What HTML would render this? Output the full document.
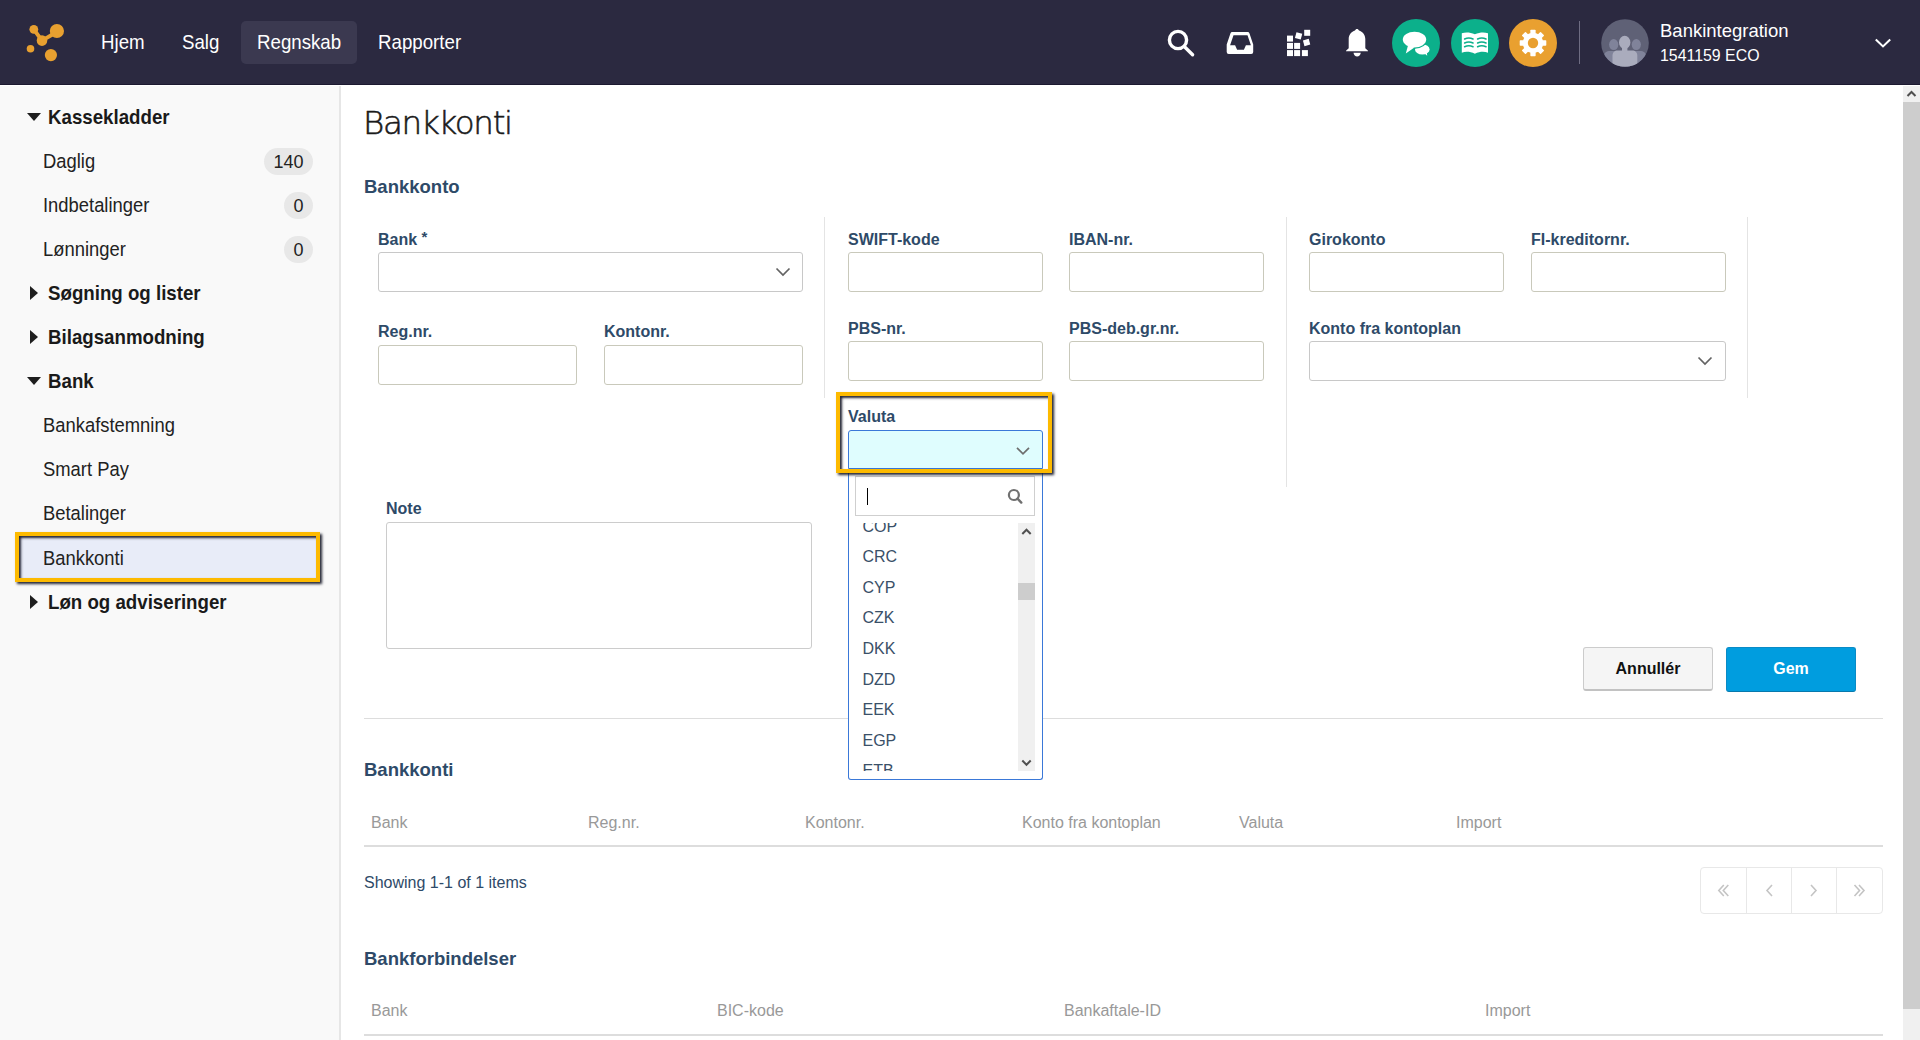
<!DOCTYPE html>
<html lang="da"><head><meta charset="utf-8"><title>Bankkonti</title>
<style>
*{box-sizing:border-box;margin:0;padding:0}
html,body{width:1920px;height:1040px;overflow:hidden;background:#fff;font-family:"Liberation Sans",Arial,sans-serif;color:#222}
.a{position:absolute;white-space:nowrap}
#hdr{position:absolute;left:0;top:0;width:1920px;height:85px;background:#2b2940;border-bottom:1px solid #1c1930}
.nav{position:absolute;top:21px;height:43px;line-height:43px;font-size:18.7px;color:#fff;padding:0 16px}
.nav span{display:inline-block;transform:scaleY(1.06);transform-origin:0 28px;line-height:43px;vertical-align:top}
.nav.on{background:#3b3950;border-radius:5px}
.hc{position:absolute;top:19px;width:48px;height:48px;border-radius:50%}
#side{position:absolute;left:0;top:86px;width:341px;height:954px;background:#f9f9f9;border-right:2px solid #e6e6e6}
.sh{position:absolute;left:48px;font-size:18.7px;line-height:18.7px;transform:scaleY(1.06);transform-origin:0 15.8px;font-weight:bold;color:#1a1a1a;white-space:nowrap}
.si{position:absolute;left:43px;font-size:18.4px;line-height:18.4px;transform:scaleY(1.06);transform-origin:0 15.6px;color:#222;white-space:nowrap}
.tri{position:absolute;width:0;height:0}
.tri.d{left:27px;border-left:7px solid transparent;border-right:7px solid transparent;border-top:8px solid #1e1e1e}
.tri.r{left:30px;border-top:7px solid transparent;border-bottom:7px solid transparent;border-left:8px solid #1e1e1e}
.badge{position:absolute;height:27px;line-height:28.4px;border-radius:14px;background:#e8e8e8;font-size:18px;color:#222;text-align:center}
.lbl{position:absolute;font-size:16px;line-height:16px;font-weight:bold;color:#2e4a68;white-space:nowrap}
.inp{position:absolute;border:1px solid #c9c9bb;border-radius:3px;background:#fff}
.sel{position:absolute;border:1px solid #c8c8c8;border-radius:3px;background:#fff}
.chev{position:absolute;width:16px;height:10px}
.vd{position:absolute;width:1px;background:#e4e4e4}
.sec{position:absolute;left:364px;font-size:18.5px;line-height:18.5px;font-weight:bold;color:#2e4a68;white-space:nowrap}
.th{position:absolute;font-size:16px;line-height:16px;color:#999;white-space:nowrap}
.opt{position:absolute;left:862px;font-size:16px;line-height:16px;color:#3a5068;white-space:nowrap}
.hl{position:absolute;border:4px solid #fdba00;box-shadow:2px 2px 2.5px rgba(22,24,40,.95), inset 2px 2px 2.5px rgba(22,24,40,.95)}
</style></head><body>

<div id="hdr">
  <svg class="a" style="left:20px;top:18px" width="48" height="48" viewBox="20 18 48 48">
    <g fill="#e8a030">
      <circle cx="33.8" cy="29.3" r="4.4"/>
      <circle cx="56.9" cy="31" r="7.1"/>
      <circle cx="42" cy="40.6" r="5.3"/>
      <circle cx="30.5" cy="48.8" r="3.8"/>
      <circle cx="50.9" cy="55.1" r="6.1"/>
    </g>
    <g stroke="#e8a030" stroke-width="3.9" stroke-linecap="round">
      <line x1="33.8" y1="29.3" x2="42" y2="40.6"/>
      <line x1="42" y1="40.6" x2="55" y2="33"/>
    </g>
  </svg>
  <div class="nav" style="left:85px"><span>Hjem</span></div>
  <div class="nav" style="left:166px"><span>Salg</span></div>
  <div class="nav on" style="left:241px;width:116px"><span>Regnskab</span></div>
  <div class="nav" style="left:362px"><span>Rapporter</span></div>

  <!-- search -->
  <svg class="a" style="left:1160px;top:20px" width="40" height="44" viewBox="1160 20 40 44">
    <circle cx="1178" cy="40" r="8.6" fill="none" stroke="#fff" stroke-width="3.4"/>
    <line x1="1185" y1="47.2" x2="1192.6" y2="54.8" stroke="#fff" stroke-width="3.4" stroke-linecap="round"/>
  </svg>
  <!-- inbox -->
  <svg class="a" style="left:1222px;top:26px" width="36" height="34" viewBox="1222 26 36 34">
    <path fill="#fff" fill-rule="evenodd" d="M1233 32h14.6a2 2 0 0 1 1.9 1.4l3.7 11.1v7.4a2 2 0 0 1-2 2h-22.5a2 2 0 0 1-2-2v-7.4l3.7-11.1a2 2 0 0 1 1.9-1.4z M1233.5 35.2l-3.4 10h5l2 4.6h6.8l2-4.6h5l-3.4-10z"/>
  </svg>
  <!-- grid -->
  <svg class="a" style="left:1282px;top:26px" width="34" height="34" viewBox="1282 26 34 34">
    <g fill="#fff">
      <rect x="1287" y="35.6" width="6" height="6"/>
      <rect x="1287" y="42.9" width="6" height="6"/>
      <rect x="1294.1" y="42.9" width="6" height="6"/>
      <rect x="1287" y="50.1" width="6" height="6"/>
      <rect x="1294.1" y="50.1" width="6" height="6"/>
      <rect x="1301.9" y="50.1" width="6" height="6"/>
      <rect x="1304.2" y="29.8" width="6" height="6"/>
      <rect x="1295.6" y="32.9" width="6" height="6" transform="rotate(15 1298.6 35.9)"/>
      <rect x="1303.6" y="39.5" width="6" height="6" transform="rotate(-15 1306.6 42.5)"/>
    </g>
  </svg>
  <!-- bell -->
  <svg class="a" style="left:1340px;top:24px" width="34" height="36" viewBox="1340 24 34 36">
    <path fill="#fff" d="M1357 29.1c1 0 1.6.7 2 1.4 3.5 1.2 6.3 4.3 6.3 8.5v9.3l2.7 2.5v.5h-22v-.5l2.7-2.5v-9.3c0-4.2 2.8-7.3 6.3-8.5.4-.7 1-1.4 2-1.4z M1353.5 52.8h7.3c-.3 2.1-1.8 3.7-3.65 3.7s-3.35-1.6-3.65-3.7z"/>
  </svg>
  <!-- chat circle -->
  <div class="hc" style="left:1392px;background:#0cb08b"></div>
  <svg class="a" style="left:1392px;top:19px" width="48" height="48" viewBox="1392 19 48 48">
    <ellipse cx="1422.3" cy="49.4" rx="7.3" ry="5.2" fill="#fff"/>
    <path d="M1424 53l3.2 2.8-.4-3.6z" fill="#fff"/>
    <ellipse cx="1414.5" cy="39.6" rx="12.9" ry="9.2" fill="#0cb08b"/>
    <ellipse cx="1414.5" cy="39.6" rx="11.7" ry="7.9" fill="#fff"/>
    <path d="M1408 45.5l-2.2 8.1 8.6-6.2z" fill="#fff"/>
  </svg>
  <!-- book circle -->
  <div class="hc" style="left:1451px;background:#0cb08b"></div>
  <svg class="a" style="left:1451px;top:19px" width="48" height="48" viewBox="1451 19 48 48">
    <path fill="#fff" d="M1461.8 33.3c3.5-1.2 8.2-1.2 13.1 1 4.9-2.2 9.6-2.2 13.1-1v19.4c-3.5-1.3-8.2-1.3-13.1 1-4.9-2.3-9.6-2.3-13.1-1z"/>
    <g stroke="#0cb08b" stroke-width="1.6" fill="none" stroke-linecap="round">
      <path d="M1464.6 38.9q4.2-1.9 8.4 0M1477.6 38.9q4.2-1.9 8.4 0"/>
      <path d="M1464.6 42.9q4.2-1.9 8.4 0M1477.6 42.9q4.2-1.9 8.4 0"/>
      <path d="M1464.6 46.7q4.2-1.9 8.4 0M1477.6 46.7q4.2-1.9 8.4 0"/>
    </g>
  </svg>
  <!-- gear circle -->
  <div class="hc" style="left:1509px;background:#e9a030"></div>
  <svg class="a" style="left:1509px;top:19px" width="48" height="48" viewBox="-24 -24 48 48">
    <g fill="#fff">
      <circle r="10.2"/>
      <rect x="-2.65" y="-13.3" width="5.3" height="5" rx=".7"/>
      <rect x="-2.65" y="-13.3" width="5.3" height="5" rx=".7" transform="rotate(45)"/>
      <rect x="-2.65" y="-13.3" width="5.3" height="5" rx=".7" transform="rotate(90)"/>
      <rect x="-2.65" y="-13.3" width="5.3" height="5" rx=".7" transform="rotate(135)"/>
      <rect x="-2.65" y="-13.3" width="5.3" height="5" rx=".7" transform="rotate(180)"/>
      <rect x="-2.65" y="-13.3" width="5.3" height="5" rx=".7" transform="rotate(225)"/>
      <rect x="-2.65" y="-13.3" width="5.3" height="5" rx=".7" transform="rotate(270)"/>
      <rect x="-2.65" y="-13.3" width="5.3" height="5" rx=".7" transform="rotate(315)"/>
    </g>
    <circle r="5.2" fill="#e9a030"/>
  </svg>
  <div class="a" style="left:1579px;top:21px;width:1px;height:43px;background:#6e6c82"></div>
  <!-- avatar -->
  <svg class="a" style="left:1601px;top:19px" width="48" height="48" viewBox="-24 -24 48 48">
    <defs><clipPath id="cc"><circle r="23.8"/></clipPath></defs>
    <circle r="23.8" fill="#5f6176"/>
    <g clip-path="url(#cc)">
      <g fill="#80839a">
        <ellipse cx="-11.3" cy="1.6" rx="4.6" ry="5.5"/>
        <path d="M-21 24v-11c0-3 2.5-4.9 6-4.9h7.5c3.5 0 6 1.9 6 4.9v11z"/>
        <ellipse cx="11.3" cy="1.6" rx="4.6" ry="5.5"/>
        <path d="M21 24v-11c0-3-2.5-4.9-6-4.9h-7.5c-3.5 0-6 1.9-6 4.9v11z"/>
      </g>
      <g fill="#aaacbd">
        <ellipse cx="-0.3" cy="-0.6" rx="5.7" ry="6.6"/>
        <rect x="-3" y="3" width="5.4" height="6"/>
        <path d="M-12.5 24v-11.5c0-3 2.2-5 5-5h14.8c2.8 0 5 2 5 5v11.5z"/>
      </g>
    </g>
  </svg>
  <div class="a" style="left:1660px;top:22.4px;font-size:18.5px;line-height:18.5px;color:#fff">Bankintegration</div>
  <div class="a" style="left:1660px;top:48.4px;font-size:15.9px;line-height:15.9px;color:#fff">1541159 ECO</div>
  <svg class="a" style="left:1873px;top:36px" width="20" height="14" viewBox="0 0 20 14">
    <path d="M2.8 3.6l7.2 6.8 7.2-6.8" fill="none" stroke="#fff" stroke-width="2.1"/>
  </svg>
</div>

<div id="side">
</div>
<!-- sidebar content (page coords) -->
<div class="tri d" style="top:113px"></div>
<div class="sh" style="top:108.9px">Kassekladder</div>
<div class="si" style="top:152.5px">Daglig</div>
<div class="badge" style="left:264px;top:148px;width:49px">140</div>
<div class="si" style="top:196.5px">Indbetalinger</div>
<div class="badge" style="left:284px;top:192px;width:29px">0</div>
<div class="si" style="top:240.5px">Lønninger</div>
<div class="badge" style="left:284px;top:236px;width:29px">0</div>
<div class="tri r" style="top:286px"></div>
<div class="sh" style="top:285px">Søgning og lister</div>
<div class="tri r" style="top:330px"></div>
<div class="sh" style="top:328.8px">Bilagsanmodning</div>
<div class="tri d" style="top:377px"></div>
<div class="sh" style="top:372.6px">Bank</div>
<div class="si" style="top:416.5px">Bankafstemning</div>
<div class="si" style="top:460.5px">Smart Pay</div>
<div class="si" style="top:504.5px">Betalinger</div>
<div class="hl" style="left:15px;top:532px;width:305px;height:50px;background:#e8ecf8"></div>
<div class="si" style="top:549.5px">Bankkonti</div>
<div class="tri r" style="top:595px"></div>
<div class="sh" style="top:594px">Løn og adviseringer</div>

<!-- main -->
<div class="a" style="left:363px;top:103px;font-family:'DejaVu Sans',sans-serif;font-weight:200;font-size:32.5px;line-height:40px;letter-spacing:-1.3px;-webkit-text-stroke:0.55px #1a1a1a;color:#1a1a1a">Bankkonti</div>
<div class="sec" style="top:177.8px">Bankkonto</div>

<div class="vd" style="left:824px;top:217px;height:181px"></div>
<div class="vd" style="left:1286px;top:217px;height:270px"></div>
<div class="vd" style="left:1747px;top:217px;height:181px"></div>

<div class="lbl" style="left:378px;top:231.5px">Bank <span style="font-size:15px;position:relative;top:-2.5px">*</span></div>
<div class="sel" style="left:378px;top:252px;width:425px;height:40px"></div>
<svg class="chev" style="left:775px;top:267px" viewBox="0 0 16 10"><path d="M1.5 1.5l6.5 6.5 6.5-6.5" fill="none" stroke="#636363" stroke-width="1.7"/></svg>

<div class="lbl" style="left:378px;top:323.5px">Reg.nr.</div>
<div class="inp" style="left:378px;top:345px;width:199px;height:40px"></div>
<div class="lbl" style="left:604px;top:323.5px">Kontonr.</div>
<div class="inp" style="left:604px;top:345px;width:199px;height:40px"></div>

<div class="lbl" style="left:848px;top:231.5px">SWIFT-kode</div>
<div class="inp" style="left:848px;top:252px;width:195px;height:40px"></div>
<div class="lbl" style="left:1069px;top:231.5px">IBAN-nr.</div>
<div class="inp" style="left:1069px;top:252px;width:195px;height:40px"></div>
<div class="lbl" style="left:848px;top:321.2px">PBS-nr.</div>
<div class="inp" style="left:848px;top:341px;width:195px;height:40px"></div>
<div class="lbl" style="left:1069px;top:321.2px">PBS-deb.gr.nr.</div>
<div class="inp" style="left:1069px;top:341px;width:195px;height:40px"></div>

<div class="lbl" style="left:1309px;top:231.5px">Girokonto</div>
<div class="inp" style="left:1309px;top:252px;width:195px;height:40px"></div>
<div class="lbl" style="left:1531px;top:231.5px">FI-kreditornr.</div>
<div class="inp" style="left:1531px;top:252px;width:195px;height:40px"></div>
<div class="lbl" style="left:1309px;top:321.2px">Konto fra kontoplan</div>
<div class="sel" style="left:1309px;top:341px;width:417px;height:40px"></div>
<svg class="chev" style="left:1697px;top:356px" viewBox="0 0 16 10"><path d="M1.5 1.5l6.5 6.5 6.5-6.5" fill="none" stroke="#636363" stroke-width="1.7"/></svg>

<!-- Valuta -->
<div class="a" style="left:364px;top:718px;width:1519px;height:1px;background:#dddddd"></div>

<div class="lbl" style="left:848px;top:409.4px">Valuta</div>
<div class="a" style="left:848px;top:430px;width:195px;height:39px;background:#dffdfe;border:1px solid #3a78d8;border-radius:3px 3px 0 0"></div>
<svg class="chev" style="left:1014.5px;top:446px" viewBox="0 0 16 10"><path d="M2 1.8l6 6 6-6" fill="none" stroke="#6e6e6e" stroke-width="1.7"/></svg>
<div class="a" style="left:848px;top:470px;width:195px;height:310px;background:#fff;border:1px solid #3a78d8;border-top:none;border-radius:0 0 3px 3px"></div>
<div class="a" style="left:855px;top:476px;width:180px;height:40px;border:1px solid #cfcfcf;background:#fff"></div>
<div class="a" style="left:866.5px;top:488px;width:1.3px;height:17px;background:#000"></div>
<svg class="a" style="left:1005px;top:486px" width="20" height="20" viewBox="1005 486 20 20">
  <circle cx="1013.9" cy="495" r="5" fill="none" stroke="#707070" stroke-width="2.2"/>
  <line x1="1017.5" y1="498.7" x2="1021.3" y2="502.6" stroke="#707070" stroke-width="2.4" stroke-linecap="round"/>
</svg>
<!-- list -->
<div class="a" style="left:849px;top:523px;width:186px;height:248px;overflow:hidden"><div style="position:absolute;left:0;top:1px;width:186px;height:260px">
  <div class="opt" style="left:13.5px;top:-5.5px">COP</div>
  <div class="opt" style="left:13.5px;top:25.1px">CRC</div>
  <div class="opt" style="left:13.5px;top:55.7px">CYP</div>
  <div class="opt" style="left:13.5px;top:86.3px">CZK</div>
  <div class="opt" style="left:13.5px;top:116.9px">DKK</div>
  <div class="opt" style="left:13.5px;top:147.5px">DZD</div>
  <div class="opt" style="left:13.5px;top:178.1px">EEK</div>
  <div class="opt" style="left:13.5px;top:208.7px">EGP</div>
  <div class="opt" style="left:13.5px;top:239.3px">ETB</div>
</div></div>
<div class="a" style="left:1018px;top:523px;width:17px;height:248px;background:#f0f0f0"></div>
<div class="a" style="left:1018px;top:583px;width:17px;height:17px;background:#cdcdcd"></div>
<svg class="a" style="left:1018px;top:523px" width="17" height="17" viewBox="0 0 17 17"><path d="M4.3 11l4.2-4.3 4.2 4.3" fill="none" stroke="#505050" stroke-width="2"/></svg>
<svg class="a" style="left:1018px;top:754px" width="17" height="17" viewBox="0 0 17 17"><path d="M4.3 6.5l4.2 4.3 4.2-4.3" fill="none" stroke="#505050" stroke-width="2"/></svg>

<div class="hl" style="left:836px;top:392px;width:216px;height:81px;background:transparent"></div>

<div class="lbl" style="left:386px;top:500.5px">Note</div>
<div class="a" style="left:386px;top:522px;width:426px;height:127px;border:1px solid #cccccc;border-radius:3px"></div>

<div class="a" style="left:1583px;top:647px;width:130px;height:44px;background:#f5f5f5;border:1px solid #cccccc;border-bottom:2px solid #c2c2c2;border-radius:3px;font-size:16px;font-weight:bold;color:#111;text-align:center;line-height:42px">Annullér</div>
<div class="a" style="left:1726px;top:647px;width:130px;height:45px;background:#009ddf;border:1px solid #0a8bc6;border-bottom-color:#0779ad;border-radius:3px;font-size:16px;font-weight:bold;color:#fff;text-align:center;line-height:42px">Gem</div>


<div class="sec" style="top:761.3px">Bankkonti</div>
<div class="th" style="left:371px;top:815.4px">Bank</div>
<div class="th" style="left:588px;top:815.4px">Reg.nr.</div>
<div class="th" style="left:805px;top:815.4px">Kontonr.</div>
<div class="th" style="left:1022px;top:815.4px">Konto fra kontoplan</div>
<div class="th" style="left:1239px;top:815.4px">Valuta</div>
<div class="th" style="left:1456px;top:815.4px">Import</div>
<div class="a" style="left:364px;top:845px;width:1519px;height:2px;background:#dddddd"></div>
<div class="a" style="left:364px;top:875px;font-size:16px;line-height:16px;color:#2e4a68">Showing 1-1 of 1 items</div>

<!-- pager -->
<div class="a" style="left:1700px;top:867px;width:183px;height:47px;border:1px solid #e8e8e8;border-radius:4px"></div>
<div class="a" style="left:1746px;top:867px;width:1px;height:47px;background:#e8e8e8"></div>
<div class="a" style="left:1791px;top:867px;width:1px;height:47px;background:#e8e8e8"></div>
<div class="a" style="left:1836px;top:867px;width:1px;height:47px;background:#e8e8e8"></div>
<svg class="a" style="left:1700px;top:867px" width="183" height="47" viewBox="1700 867 183 47">
  <g fill="none" stroke="#c4c4c4" stroke-width="1.6">
    <path d="M1723.8 885l-5 5.5 5 5.5M1728.3 885l-5 5.5 5 5.5"/>
    <path d="M1772 885l-5 5.5 5 5.5"/>
    <path d="M1811 885l5 5.5-5 5.5"/>
    <path d="M1854.5 885l5 5.5-5 5.5M1859 885l5 5.5-5 5.5"/>
  </g>
</svg>

<div class="sec" style="top:949.6px">Bankforbindelser</div>
<div class="th" style="left:371px;top:1003.4px">Bank</div>
<div class="th" style="left:717px;top:1003.4px">BIC-kode</div>
<div class="th" style="left:1064px;top:1003.4px">Bankaftale-ID</div>
<div class="th" style="left:1485px;top:1003.4px">Import</div>
<div class="a" style="left:364px;top:1034px;width:1519px;height:2px;background:#dddddd"></div>

<!-- page scrollbar -->
<div class="a" style="left:1903px;top:86px;width:17px;height:954px;background:#f0f0f0"></div>
<div class="a" style="left:1903px;top:102px;width:17px;height:907px;background:#cdcdcd"></div>
<svg class="a" style="left:1903px;top:86px" width="17" height="16" viewBox="0 0 17 16"><path d="M4.5 10l4-4 4 4" fill="none" stroke="#505050" stroke-width="2"/></svg>

</body></html>
